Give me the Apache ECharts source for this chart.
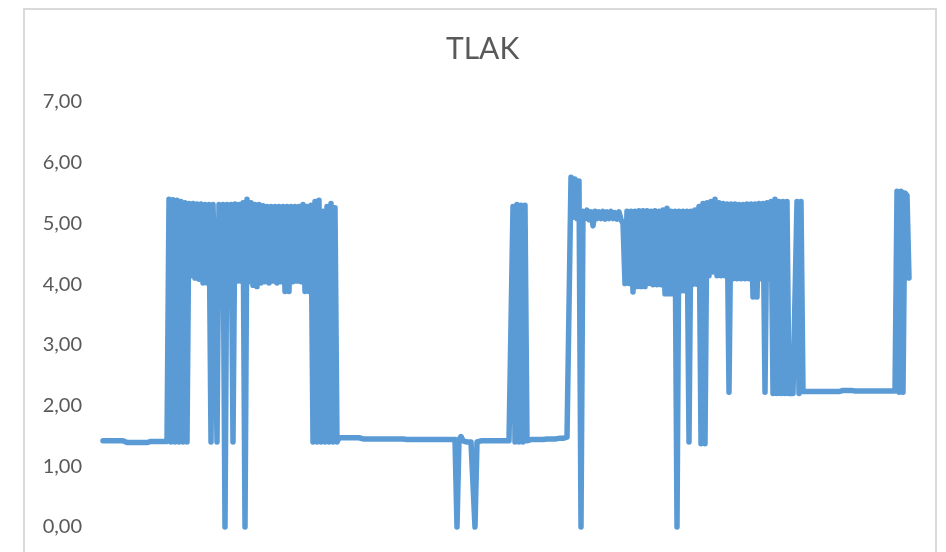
<!DOCTYPE html>
<html>
<head>
<meta charset="utf-8">
<script src="https://cdn.jsdelivr.net/npm/echarts@6/dist/echarts.min.js"></script>
<style>
  html, body { margin: 0; padding: 0; background: #ffffff; }
  #chart { width: 946px; height: 552px; }
</style>
</head>
<body>
<div id="chart"></div>
<script>
// ---- data (one value per sample) ----
const chartTitle = 'TLAK';
const yTicks = [0, 1, 2, 3, 4, 5, 6, 7];

const segFlat1 = [1.42,1.42,1.42,1.42,1.42,1.42,1.42,1.42,1.42,1.42,1.42,1.42,
  1.39,1.39,1.39,1.39,1.39,1.39,1.39,1.39,1.39,1.39,1.39,1.39,
  1.41,1.41,1.41,1.41,1.41,1.41,1.41,1.41,1.41];
const segBlock1 = [5.40,1.40,5.39,1.40,5.38,1.40,5.36,1.40,5.34,1.40];
const segWave1 = [5.33,4.14,5.33,4.10,5.32,4.08,5.32,4.02,5.31,4.02,
  5.31,1.40,5.31,3.97,1.40,5.31,3.92,5.31,0,5.31,
  4.17,5.31,1.40,5.32,4.05,5.31,4.05,5.34,0,5.40,
  4.04,5.34,3.98,5.31,3.96,5.31,4.02,5.29,4.04,5.28,
  4.02,5.28,4.05,5.28,4.02,5.28,4.04,5.28,3.88,5.28,
  3.88,5.28,4.04,5.28,4.05,5.28,4.04,5.31,3.88,5.28,
  3.88,5.30];
const segBlock2 = [1.40,5.36,1.40,5.38,1.40,5.20,1.40,5.28,1.40,5.33,1.40,5.26,1.40];
const segFlat2 = [1.47,1.47,1.47,1.47,1.47,1.47,1.47,1.47,1.47,1.47,1.47,
  1.45,1.45,1.45,1.45,1.45,1.45,1.45,1.45,1.45,1.45,1.45,
  1.45,1.45,1.45,1.45,1.45,1.45,1.45,1.45,1.45,1.45,1.45,
  1.44,1.44,1.44,1.44,1.44,1.44,1.44,1.44,1.44,1.44,1.44,1.44,1.44,
  1.44,1.44,1.44,1.44,1.44,1.44,1.44,1.44,1.44,1.44,1.44,1.44];
const segDips = [1.44,0,1.44,1.49,1.42,1.40,1.40,1.40,1.40,1.40,0,1.40];
const segFlat3 = [1.42,1.42,1.42,1.42,1.42,1.42,1.42,1.42,1.42,1.42,1.42,1.42,1.42,1.42,1.42,1.42,1.42];
const segBurst = [5.28,1.40,5.31,1.40,5.30,1.40,5.30,1.42];
const segFlat4 = [1.44,1.44,1.44,1.44,1.44,1.44,1.44,1.44,
  1.45,1.45,1.45,1.45,1.45,1.45,1.45,1.46,1.46,1.46,1.46,1.48,1.50];
const segPeak = [5.76,5.10,5.73,5.08,5.70,0,5.20];
const segPlateau = [5.08,5.22,5.06,5.19,4.96,5.20,5.08,5.19,5.08,5.20,
  5.07,5.19,5.08,5.20,5.08,5.18,5.07,5.19,5.06,5.00];
const segWave2 = [4.01,5.20,4.01,5.20,3.87,5.20,3.96,5.21,3.96,5.21,
  3.96,5.21,4.01,5.20,3.99,5.21,3.99,5.20,3.99,5.22,
  3.84,5.25,3.84,5.20,3.84,5.20,0,5.20,3.89,5.20,
  3.89,5.20,1.40,5.20,4.00,5.22,4.00,5.28,1.37,5.33,
  1.37,5.34,4.14,5.36,4.20,5.40,4.14,5.34,4.14,5.33,
  4.14,5.32,2.22,5.32,4.09,5.32,4.09,5.31,4.09,5.31,
  4.09,5.32,4.09,5.32,3.79,5.32,3.79,5.33,4.09,5.33,
  2.22,5.34,4.09,5.36,2.20,5.40,2.20,5.36,2.20,5.36,
  2.20,5.36,2.20,2.20,2.20,2.20,5.36,2.20,5.36];
const segFlat5 = [2.23,2.23,2.23,2.23,2.23,2.23,2.23,2.23,2.23,2.23,
  2.23,2.23,2.23,2.23,2.23,2.23,2.23,2.23,2.23,
  2.25,2.25,2.25,2.25,2.25,2.25,2.25,
  2.24,2.24,2.24,2.24,2.24,2.24,2.24,2.24,2.24,2.24,
  2.24,2.24,2.24,2.24,2.24,2.24,2.24,2.24,2.24,2.24];
const segEnd = [2.24,5.53,2.22,5.53,2.22,5.50,5.46,4.10];

const tlak = [].concat(segFlat1, segBlock1, segWave1, segBlock2, segFlat2, segDips,
  segFlat3, segBurst, segFlat4, segPeak, segPlateau, segWave2, segFlat5, segEnd);
const seriesData = tlak.map((v, i) => [i, v]);

const chart = echarts.init(document.getElementById('chart'), null, { renderer: 'canvas' });
chart.setOption({
  animation: false,
  backgroundColor: '#ffffff',
  title: {
    text: chartTitle,
    left: 446,
    top: 34,
    padding: 0,
    textStyle: { fontFamily: 'Lato', fontSize: 30, fontWeight: 'normal', color: '#595959' }
  },
  graphic: [{
    type: 'rect',
    silent: true,
    shape: { x: 24, y: 9, width: 912, height: 600 },
    style: { fill: 'none', stroke: '#d9d9d9', lineWidth: 2 }
  }],
  grid: { left: 103, right: 37, top: 102, bottom: 25, containLabel: false },
  xAxis: {
    type: 'value',
    min: 0,
    max: tlak.length - 1,
    show: false
  },
  yAxis: {
    type: 'value',
    min: yTicks[0],
    max: yTicks[yTicks.length - 1],
    interval: 1,
    axisLine: { show: false },
    axisTick: { show: false },
    splitLine: { show: false },
    axisLabel: {
      margin: 21,
      fontFamily: 'Lato',
      fontSize: 20,
      color: '#595959',
      formatter: v => v.toFixed(2).replace('.', ',')
    }
  },
  series: [{
    name: chartTitle,
    type: 'line',
    data: seriesData,
    showSymbol: false,
    symbol: 'none',
    sampling: null,
    clip: false,
    lineStyle: { color: '#5b9bd5', width: 5.5, join: 'round', cap: 'round' },
    itemStyle: { color: '#5b9bd5' }
  }]
});
</script>
</body>
</html>
